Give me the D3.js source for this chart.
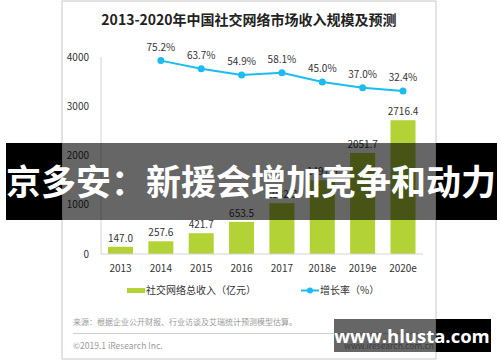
<!DOCTYPE html>
<html>
<head>
<meta charset="utf-8">
<script src="https://cdn.jsdelivr.net/npm/d3@7"></script>
<style>
  body { margin: 0; background: #fff; }
  svg { display: block; font-family: "Noto Sans CJK SC", "Noto Sans", sans-serif; }
</style>
</head>
<body>
<div id="chart"></div>
<script>
// data
const years = ["2013", "2014", "2015", "2016", "2017", "2018e", "2019e", "2020e"];
const revenue = [147.0, 257.6, 421.7, 653.5, 1032.3, 1497.6, 2051.7, 2716.4];
const growth = [null, 75.2, 63.7, 54.9, 58.1, 45.0, 37.0, 32.4];
const yTicks = [0, 1000, 2000, 3000, 4000];

const barColor = "#b2d235";
const lineColor = "#1cbcf0";

drawChart();

function drawChart() {
	const width = 500;
	const height = 362;

	const svg = d3.select("#chart").append("svg")
		.attr("width", width)
		.attr("height", height);

	// card border
	svg.append("rect")
		.attr("x", 62).attr("y", 1)
		.attr("width", 374).attr("height", 358)
		.attr("fill", "#fff")
		.attr("stroke", "#c8c8c8");

	svg.append("text")
		.attr("x", 249).attr("y", 25)
		.attr("text-anchor", "middle")
		.attr("font-size", 14)
		.attr("font-weight", "bold")
		.attr("fill", "#222")
		.text("2013-2020年中国社交网络市场收入规模及预测");

	// scales
	const x = d3.scaleBand(years, [101, 422.5]).paddingInner(0.38).paddingOuter(0.173);
	const y = d3.scaleLinear([0, 4000], [254, 57]);
	const yRate = d3.scaleLinear([0, 100], [114, 43]);

	// y axis labels
	svg.append("g")
		.selectAll("text")
		.data(yTicks)
		.join("text")
			.attr("x", 89)
			.attr("y", d => y(d) + 3.5)
			.attr("text-anchor", "end")
			.attr("font-size", 10)
			.attr("fill", "#333")
			.text(d => d);

	svg.append("line")
		.attr("x1", 101).attr("x2", 101)
		.attr("y1", y(4000)).attr("y2", y(0))
		.attr("stroke", "#d4d4d4");

	// bars
	svg.append("g")
		.attr("fill", barColor)
		.selectAll("rect")
		.data(revenue)
		.join("rect")
			.attr("x", (d, i) => x(years[i]))
			.attr("width", x.bandwidth())
			.attr("y", d => y(d))
			.attr("height", d => y(0) - y(d));

	svg.append("g")
		.selectAll("text")
		.data(revenue)
		.join("text")
			.attr("x", (d, i) => x(years[i]) + x.bandwidth() / 2)
			.attr("y", d => y(d) - 5)
			.attr("text-anchor", "middle")
			.attr("font-size", 10)
			.attr("fill", "#333")
			.text(d => d.toFixed(1));

	svg.append("line")
		.attr("x1", 101).attr("x2", 423)
		.attr("y1", y(0)).attr("y2", y(0))
		.attr("stroke", "#d4d4d4");

	// x axis labels
	svg.append("g")
		.selectAll("text")
		.data(years)
		.join("text")
			.attr("x", d => x(d) + x.bandwidth() / 2)
			.attr("y", 272)
			.attr("text-anchor", "middle")
			.attr("font-size", 10)
			.attr("fill", "#333")
			.text(d => d);

	// growth line
	const pts = growth.map((v, i) => ({ year: years[i], v })).filter(d => d.v != null);
	const line = d3.line()
		.x(d => x(d.year) + x.bandwidth() / 2)
		.y(d => yRate(d.v));

	svg.append("path")
		.datum(pts)
		.attr("d", line)
		.attr("fill", "none")
		.attr("stroke", lineColor)
		.attr("stroke-width", 2);

	svg.append("g")
		.attr("fill", lineColor)
		.selectAll("circle")
		.data(pts)
		.join("circle")
			.attr("cx", d => x(d.year) + x.bandwidth() / 2)
			.attr("cy", d => yRate(d.v))
			.attr("r", 3.5);

	svg.append("g")
		.selectAll("text")
		.data(pts)
		.join("text")
			.attr("x", d => x(d.year) + x.bandwidth() / 2)
			.attr("y", d => yRate(d.v) - 10)
			.attr("text-anchor", "middle")
			.attr("font-size", 10)
			.attr("fill", "#333")
			.text(d => d.v.toFixed(1) + "%");

	// legend
	svg.append("rect")
		.attr("x", 127).attr("y", 288)
		.attr("width", 18).attr("height", 5)
		.attr("fill", barColor);
	svg.append("text")
		.attr("x", 146).attr("y", 294)
		.attr("font-size", 10)
		.attr("fill", "#333")
		.text("社交网络总收入（亿元）");

	svg.append("line")
		.attr("x1", 301).attr("x2", 319)
		.attr("y1", 290.5).attr("y2", 290.5)
		.attr("stroke", lineColor)
		.attr("stroke-width", 2);
	svg.append("circle")
		.attr("cx", 310).attr("cy", 290.5).attr("r", 3)
		.attr("fill", lineColor);
	svg.append("text")
		.attr("x", 320).attr("y", 294)
		.attr("font-size", 10)
		.attr("fill", "#333")
		.text("增长率（%）");

	// footer
	svg.append("text")
		.attr("x", 73).attr("y", 324.5)
		.attr("font-size", 8)
		.attr("fill", "#9a9a9a")
		.text("来源：根据企业公开财报、行业访谈及艾瑞统计预测模型估算。");

	svg.append("line")
		.attr("x1", 73).attr("x2", 436)
		.attr("y1", 333.5).attr("y2", 333.5)
		.attr("stroke", "#cfcfcf");

	svg.append("text")
		.attr("x", 73).attr("y", 349)
		.attr("font-size", 8.5)
		.attr("fill", "#9a9a9a")
		.text("©2019.1 iResearch Inc.");

	svg.append("text")
		.attr("x", 434).attr("y", 349)
		.attr("text-anchor", "end")
		.attr("font-size", 8.5)
		.attr("fill", "#9a9a9a")
		.text("www.iresearch.com.cn");

	// headline banner over the picture
	drawOverlay(svg, 6, 143, 491, 77);
	svg.append("text")
		.attr("x", 251).attr("y", 195)
		.attr("text-anchor", "middle")
		.attr("font-size", 35)
		.attr("font-weight", "bold")
		.attr("fill", "#fff")
		.text("京多安：新援会增加竞争和动力");

	// watermark
	drawOverlay(svg, 334, 319, 157, 33);
	svg.append("text")
		.attr("x", 412).attr("y", 342.5)
		.attr("text-anchor", "middle")
		.attr("font-family", "'Open Sans', sans-serif")
		.attr("font-size", 18.5)
		.attr("font-weight", "bold")
		.attr("fill", "#fff")
		.text("www.hlusta.com");
}

// dark box: opaque outside the card, see-through inside it
function drawOverlay(svg, x0, y0, w, h) {
	const cardL = 62, cardR = 436;
	const x1 = x0 + w;
	if (x0 < cardL) {
		svg.append("rect").attr("x", x0).attr("y", y0)
			.attr("width", cardL - x0).attr("height", h).attr("fill", "#000");
	}
	if (x1 > cardR) {
		svg.append("rect").attr("x", cardR).attr("y", y0)
			.attr("width", x1 - cardR).attr("height", h).attr("fill", "#000");
	}
	const a = Math.max(x0, cardL), b = Math.min(x1, cardR);
	svg.append("rect").attr("x", a).attr("y", y0)
		.attr("width", b - a).attr("height", h)
		.attr("fill", "#000").attr("fill-opacity", 0.6);
}
</script>
</body>
</html>
